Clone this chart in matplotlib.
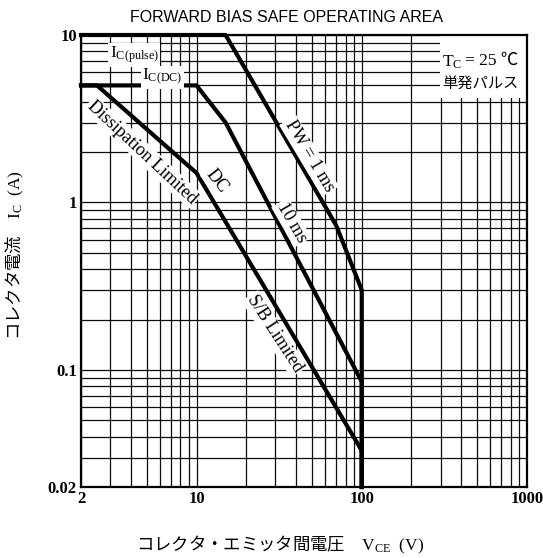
import numpy as np
import matplotlib.pyplot as plt
from matplotlib.ticker import LogLocator, NullFormatter, FixedLocator, FixedFormatter

plt.rcParams["mathtext.fontset"] = "custom"
plt.rcParams["mathtext.rm"] = "Liberation Serif"
plt.rcParams["mathtext.it"] = "Liberation Serif:italic"

# data
pulse_v = [2, 15, 70, 100, 100]
pulse_i = [10, 10, 0.73, 0.3, 0.02]
ms10_v = [2, 10, 15, 100, 100]
ms10_i = [5, 5, 3, 0.085, 0.02]
dc_v = [2, 2.5, 10, 100, 100]
dc_i = [5, 5, 1.5, 0.033, 0.02]

x_ticks = [2, 10, 100, 1000]
x_ticklabels = ["2", "10", "100", "1000"]
y_ticks = [0.02, 0.1, 1, 10]
y_ticklabels = ["0.02", "0.1", "1", "10"]

serif = ["Liberation Serif", "Noto Sans CJK JP"]
jp = ["Noto Sans CJK JP", "DejaVu Sans"]

fig = plt.figure(figsize=(5.43, 5.58), dpi=100)
ax = fig.add_axes([81 / 543, 1 - 487 / 558, 446 / 543, 452 / 558])
ax.set_xscale("log")
ax.set_yscale("log")
ax.set_xlim(2, 1000)
ax.set_ylim(0.02, 10)

# graph paper grid
ax.xaxis.set_minor_locator(LogLocator(base=10, subs=np.arange(2, 10)))
ax.yaxis.set_minor_locator(LogLocator(base=10, subs=np.arange(2, 10)))
ax.xaxis.set_minor_formatter(NullFormatter())
ax.yaxis.set_minor_formatter(NullFormatter())
ax.grid(True, which="both", color="0.05", lw=0.9)
ax.set_axisbelow(True)

ax.xaxis.set_major_locator(FixedLocator(x_ticks))
ax.xaxis.set_major_formatter(FixedFormatter(x_ticklabels))
ax.yaxis.set_major_locator(FixedLocator(y_ticks))
ax.yaxis.set_major_formatter(FixedFormatter(y_ticklabels))
ax.tick_params(which="both", length=0, pad=3)
for lab in ax.get_xticklabels() + ax.get_yticklabels():
    lab.set_family(serif)
    lab.set_fontweight("bold")
    lab.set_fontsize(12)

for s in ax.spines.values():
    s.set_linewidth(1.6)
    s.set_color("black")

for v, i in [(pulse_v, pulse_i), (ms10_v, ms10_i), (dc_v, dc_i)]:
    ax.plot(v, i, color="black", lw=3, solid_joinstyle="round", zorder=3, clip_on=False)

box = dict(facecolor="white", edgecolor="none", pad=1)
ax.text(4.2, 7.6, r"$\mathrm{I_{C(pulse)}}$", fontsize=12.5, ha="center", va="center", bbox=box, zorder=4)
ax.text(6.2, 5.6, r"$\mathrm{I_{C(DC)}}$", fontsize=12.5, ha="center", va="center", bbox=box, zorder=4)

# condition box in the top right corner
ax.add_patch(plt.Rectangle((0.806, 0.86), 0.2, 0.14, transform=ax.transAxes, facecolor="white",
                           edgecolor="none", zorder=2))
fig.text(442 / 543, 1 - 62 / 558, r"$\mathrm{T_C}$", fontsize=12.5, ha="left", va="center", zorder=5)
fig.text(465 / 543, 1 - 61 / 558, "= 25 ℃", family=serif, fontsize=12.5, ha="left", va="center", zorder=5)
fig.text(442 / 543, 1 - 83 / 558, "単発パルス", family=jp, fontsize=11, ha="left", va="center", zorder=5)

lab_kw = dict(family=serif, fontsize=13, ha="center", va="center", bbox=box, zorder=4, rotation_mode="anchor")
ax.text(4.7, 2.0, "Dissipation Limited", rotation=-43, **lab_kw)
ax.text(13.2, 1.35, "DC", rotation=-52, **lab_kw)
ax.text(48, 1.9, "PW = 1 ms", rotation=-59, **lab_kw)
ax.text(37.5, 0.76, "10 ms", rotation=-60, **lab_kw)
ax.text(29.6, 0.164, "S/B Limited", rotation=-57, **lab_kw)

fig.text(287 / 543, 1 - 17 / 558, "FORWARD BIAS SAFE OPERATING AREA", family=["Liberation Sans"],
         fontsize=11.5, ha="center", va="center")
fig.text(280 / 543, 1 - 545 / 558, r"コレクタ・エミッタ間電圧　$\mathrm{V_{CE}\ \ (V)}$", family=jp,
         fontsize=12.5, ha="center", va="center")
fig.text(15 / 543, 1 - 255 / 558, r"コレクタ電流　$\mathrm{I_C\ \ (A)}$", family=jp,
         fontsize=12.5, ha="center", va="center", rotation=90)

fig.savefig("out.png", dpi=100)
